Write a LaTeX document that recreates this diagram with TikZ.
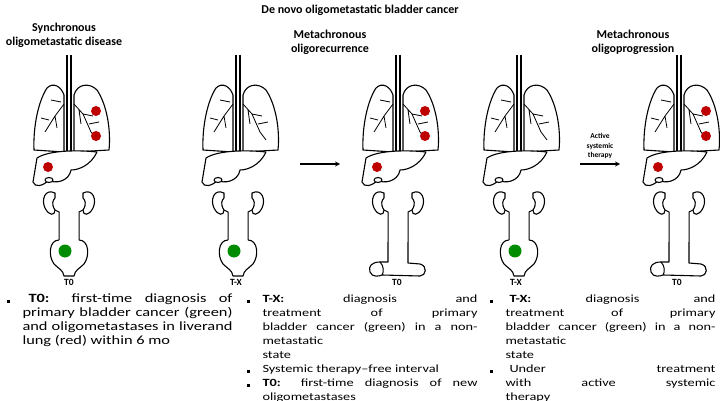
\documentclass[tikz,border=0pt]{standalone}
\usepackage{fontspec}
\setmainfont{Carlito}
\newfontfamily\bodyf{Carlito}[FakeStretch=1.3]
\usepackage{enumitem}
\newcommand\bsq{\rule{2.5pt}{2.5pt}}
\begin{document}
\begin{tikzpicture}[x=1pt,y=-1pt,line width=1pt,
  org/.style={draw=black,line width=1.1pt,line join=round,fill=white},
  metr/.style={fill=red!75!black,draw=none},
  metg/.style={fill=green!55!black,draw=none},
  ttl/.style={font=\bfseries\fontsize{12}{14}\selectfont,align=center},
  lab/.style={font=\bfseries\fontsize{9.5}{10}\selectfont},
  txt/.style={text width=#1,align=justify,font=\bodyf\fontsize{12.6}{14.1}\selectfont,inner sep=0pt,anchor=north west},
  txtb/.style={txt=#1,font=\bodyf\fontsize{11}{14}\selectfont},
  arr/.style={-stealth,line width=1.2pt}]
\useasboundingbox (0,0) rectangle (720,401);
\newcommand\lungs[1]{\begin{scope}[xshift=#1]
 \draw[org] (-5,95) .. controls (-8,86) and (-16,82) .. (-22,88) .. controls (-30,100) and (-36,125) .. (-35,150) -- (-5,152) -- cycle;
 \draw[org] (5,95) .. controls (8,84) and (20,82) .. (28,90) .. controls (38,105) and (42,130) .. (40,150) -- (5,152) -- cycle;
 \draw[line width=0.8pt] (-5,104) -- (-14,116) -- (-24,132) (-14,116) -- (-12,128) (-8,102)--(-18,100) (-20,120)--(-28,118);
 \draw[line width=0.8pt] (5,104) -- (14,114) -- (22,132) (14,114)--(24,116) (10,110)--(12,124) (20,124)--(30,122) (22,132)--(28,140);
 \draw[org] (-2,55) -- (-2,152) (2,55) -- (2,152);
 \draw[org] (-32,158) .. controls (-20,150) and (10,150) .. (28,152) .. controls (22,165) and (10,170) .. (2,170) .. controls (0,182) and (-15,184) .. (-20,180) .. controls (-26,186) and (-34,188) .. (-36,182) -- cycle;
 \draw[org] (-20,180) ellipse (4 and 2.5);
 \draw[org] (-14,193) .. controls (-24,188) and (-28,200) .. (-24,208) .. controls (-20,216) and (-14,216) .. (-14,210) .. controls (-18,204) and (-16,200) .. (-14,198) -- cycle;
 \draw[org] (14,193) .. controls (24,188) and (28,200) .. (24,208) .. controls (20,216) and (14,216) .. (14,210) .. controls (18,204) and (16,200) .. (14,198) -- cycle;
 \draw[line width=1pt] (-14,210) -- (-10,212) -- (-10,242) (14,210) -- (10,212) -- (10,242);
 \end{scope}}
\newcommand\mets[1]{\begin{scope}[xshift=#1]
 \fill[metr] (27,111) circle (5); \fill[metr] (27,136) circle (5); \fill[metr] (-21,167) circle (5);\end{scope}}
\newcommand\bladder[2]{\begin{scope}[xshift=#1]
 \draw[org] (-10,240) .. controls (-20,240) and (-21,256) .. (-15,264) .. controls (-10,269) and (-6,270) .. (-5,276) -- (5,276) .. controls (6,270) and (10,269) .. (15,264) .. controls (21,256) and (20,240) .. (10,240);
 \ifx#2g\fill[metg] (-4,251) circle (6.5);\fi\end{scope}}
\newcommand\conduit[1]{\begin{scope}[xshift=#1]
 \draw[org] (-10,242) -- (-10,262) -- (-18,262) .. controls (-26,262) and (-30,266) .. (-28,272) .. controls (-26,278) and (-18,276) .. (-16,275) -- (22,276) .. controls (28,276) and (30,266) .. (22,264) -- (10,263) -- (10,242);
 \draw[line width=1pt] (-18,262) .. controls (-14,266) and (-14,272) .. (-16,275);
\end{scope}}
\lungs{69}\mets{69}\bladder{69}{g}
\lungs{238}\bladder{238}{g}
\lungs{398}\mets{398}\conduit{398}
\lungs{519}\bladder{519}{g}
\lungs{679}\mets{679}\conduit{679}
\node[lab] (l1) at (69,282) {T0};
\node[lab] (l2) at (236,282) {T-X};
\node[lab] (l3) at (397,282) {T0};
\node[lab] (l4) at (516,282) {T-X};
\node[lab] (l5) at (677,282) {T0};
\node[ttl] (h0) at (360,10) {De novo oligometastatic bladder cancer};
\node[ttl] (h1) at (64,35) {Synchronous\\ oligometastatic disease};
\node[ttl] (h2) at (330,42) {Metachronous\\ oligorecurrence};
\node[ttl] (h3) at (633,42) {Metachronous\\ oligoprogression};
\coordinate (a1) at (300,164); \coordinate (b1) at (340,164);
\draw[arr] (a1) -- (b1);
\coordinate (a2) at (580,164); \coordinate (b2) at (620,164);
\draw[arr] (a2) -- (b2);
\node[font=\bfseries\fontsize{7.5}{9.5}\selectfont,align=center] (at) at (600,146) {Active\\ systemic\\ therapy};
\newcommand\blk[1]{\begin{itemize}[leftmargin=17pt,labelsep=13pt,itemsep=0pt,topsep=0pt,parsep=0pt,label={\bsq}]#1\end{itemize}}
\node[txt=227pt] (t1) at (5,288) {\blk{\item \hspace*{6pt}\textbf{T0:} first-time diagnosis of\linebreak primary bladder cancer (green)\linebreak and oligometastases in liverand\linebreak lung (red) within 6 mo}};
\node[txtb=232pt] (t2) at (245,288) {\blk{\item \textbf{T-X:} diagnosis and treatment of primary\linebreak bladder cancer (green) in a nonmetastatic\\ state \item Systemic therapy–free interval \item \textbf{T0:} first-time diagnosis of new oligometastases\\ in liver and lung (red) >6 mo after diagnosis\\ of cancer}};
\node[txtb=227pt] (t3) at (488,288) {\blk{\item \hspace*{4pt}\textbf{T-X:} diagnosis and treatment of primary\linebreak bladder cancer (green) in a nonmetastatic\\ state \item \hspace*{4pt}Under treatment with active systemic\linebreak therapy \item \hspace*{10pt}\textbf{T0:} first-time diagnosis of new\linebreak oligometastases in liver and lung (red)\\ \hspace*{3pt}>6 mo after diagnosis of cancer}};
\end{tikzpicture}
\end{document}
